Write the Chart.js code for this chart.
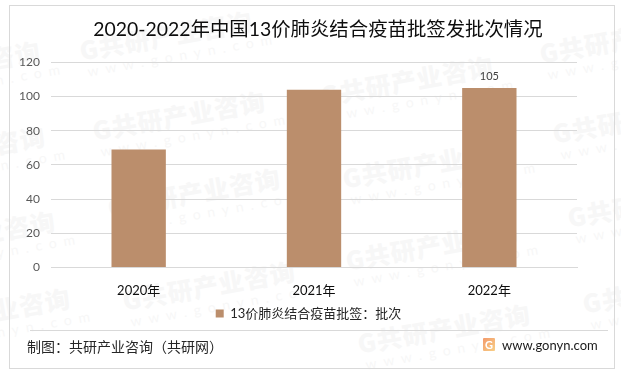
<!DOCTYPE html>
<html lang="zh">
<head>
<meta charset="utf-8">
<title>13价肺炎结合疫苗批签发批次</title>
<script src="https://cdn.jsdelivr.net/npm/chart.js@4"></script>
<style>
html, body { margin: 0; padding: 0; background: #fff; }
#wrap { position: relative; width: 621px; height: 372px; overflow: hidden; font-family: Lato, "Noto Sans CJK SC", sans-serif; }
#frame { position: absolute; left: 9px; top: 5px; width: 604px; height: 362px; border: 1px solid #d9d9d9; }
#wm { position: absolute; left: 0; top: 0; width: 621px; height: 372px; }
.mark { position: absolute; transform: rotate(-10deg); transform-origin: left top; color: #f7f7f7; white-space: nowrap; }
.mark b { display: block; font: 900 25px "Noto Sans CJK SC", sans-serif; line-height: 30px; letter-spacing: 1px; }
.mark i { display: block; font: normal 14px Lato, sans-serif; line-height: 16px; letter-spacing: 7px; margin-left: 4px; }
#c { position: absolute; left: 0; top: 0; }
#rule { position: absolute; left: 30px; top: 330px; width: 578px; height: 1px; background: #d9d9d9; }
#src { position: absolute; left: 27px; top: 337px; font-size: 14px; line-height: 20px; color: #262626; }
#site { position: absolute; left: 502px; top: 335px; font-size: 13px; line-height: 20px; color: #1a1a1a; }
#logo { position: absolute; left: 483px; top: 338px; width: 12px; height: 13px; border-radius: 1px; background: linear-gradient(135deg, #f39a6b, #f8cf86); color: #fff; font: bold 11px/13px Lato, sans-serif; text-align: center; }
</style>
</head>
<body>
<div id="wrap">
  <div id="wm"></div>
  <div id="frame"></div>
  <canvas id="c" width="621" height="372"></canvas>
  <div id="rule"></div>
  <div id="src">制图：共研产业咨询（共研网）</div>
  <div id="logo">G</div>
  <div id="site">www.gonyn.com</div>
</div>
<script>
// データ
const categories = ['2020年', '2021年', '2022年'];
const seriesName = '13价肺炎结合疫苗批签：批次';
const batches = [69, 104, 105];
const labelShown = [false, false, true];
const yTicks = [0, 20, 40, 60, 80, 100, 120];

const FONT = 'Lato, "Noto Sans CJK SC", sans-serif';

// 透かし
const markSpots = [
    [-135, 65], [-130, 150], [-120, 235], [-105, 312],
    [77, 35], [90, 115], [105, 192], [120, 285],
    [318, 80], [340, 163], [343, 245], [355, 328],
    [537, 38], [550, 118], [565, 202], [580, 288]
];
const wm = document.getElementById('wm');
markSpots.forEach(function (p) {
    const d = document.createElement('div');
    d.className = 'mark';
    d.style.left = p[0] + 'px';
    d.style.top = p[1] + 'px';
    d.innerHTML = '<b>G共研产业咨询</b><i>www.gonyn.com</i>';
    wm.appendChild(d);
});

// 棒の上の数値
const valueLabels = {
    id: 'valueLabels',
    afterDatasetsDraw(chart) {
        const ctx = chart.ctx;
        const meta = chart.getDatasetMeta(0);
        ctx.save();
        ctx.font = '11px ' + FONT;
        ctx.fillStyle = '#404040';
        ctx.textAlign = 'center';
        ctx.textBaseline = 'bottom';
        meta.data.forEach(function (bar, i) {
            if (labelShown[i]) ctx.fillText(batches[i], bar.x, bar.y - 6);
        });
        ctx.restore();
    }
};

// タイトルと凡例の位置を少しずらす
const nudgeBoxes = {
    id: 'nudgeBoxes',
    afterLayout(chart) {
        chart.titleBlock.left += 4;
        chart.titleBlock.right += 4;
        chart.legend.left += 40;
        chart.legend.top -= 12;
        chart.legend.bottom -= 12;
    }
};

new Chart(document.getElementById('c'), {
    type: 'bar',
    data: {
        labels: categories,
        datasets: [{
            label: seriesName,
            data: batches,
            backgroundColor: '#bb8e6c',
            barPercentage: 0.31,
            categoryPercentage: 1
        }]
    },
    options: {
        responsive: false,
        animation: false,
        layout: { padding: { left: 0, right: 44, top: 0, bottom: 30 } },
        plugins: {
            title: {
                display: true,
                text: '2020-2022年中国13价肺炎结合疫苗批签发批次情况',
                color: '#0d0d0d',
                font: { family: FONT, size: 19.4, weight: 'normal' },
                padding: { top: 18, bottom: 21 },
                fullSize: false
            },
            legend: {
                position: 'bottom',
                labels: {
                    color: '#262626',
                    font: { family: FONT, size: 13 },
                    boxWidth: 8,
                    boxHeight: 8,
                    padding: 4
                }
            },
            tooltip: { enabled: false }
        },
        scales: {
            x: {
                grid: { display: false, drawTicks: false },
                border: { color: '#d9d9d9' },
                ticks: { color: '#0d0d0d', font: { family: FONT, size: 13 }, padding: 16 }
            },
            y: {
                min: 0,
                max: 120,
                afterBuildTicks(axis) { axis.ticks = yTicks.map(v => ({ value: v })); },
                afterFit(axis) { axis.width = 51; },
                grid: { color: '#d9d9d9', drawTicks: false },
                border: { display: false },
                ticks: { color: '#595959', font: { family: FONT, size: 12 }, padding: 11 }
            }
        }
    },
    plugins: [valueLabels, nudgeBoxes]
});
</script>
</body>
</html>
